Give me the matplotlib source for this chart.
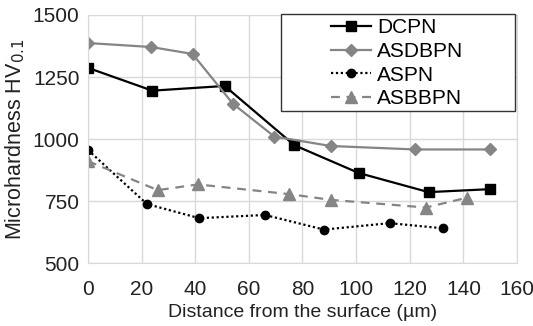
import matplotlib.pyplot as plt
from matplotlib.patches import Rectangle

plt.rcParams["font.family"] = ["Liberation Sans", "DejaVu Sans"]

# Hardness profiles
dcpn_x = [0, 24, 51, 77, 101, 127, 150]
dcpn_y = [1287, 1195, 1214, 975, 863, 786, 798]

asdbpn_x = [0, 23.5, 39, 54, 69.5, 90.5, 122, 150]
asdbpn_y = [1387, 1371, 1343, 1143, 1010, 972, 958, 958]

aspn_x = [0, 22, 41.5, 66, 88, 112.5, 132.5]
aspn_y = [956, 738, 681, 694, 635, 661, 640]

asbbpn_x = [0, 26, 41, 75, 90.5, 126, 141.5]
asbbpn_y = [911, 794, 817, 778, 755, 724, 764]

gray = "#858585"

fig = plt.figure(figsize=(5.33, 3.26), dpi=100)
ax = fig.add_axes([0.165, 0.193, 0.805, 0.761])

ax.plot(dcpn_x, dcpn_y, color="black", marker="s", markersize=6.5, lw=1.6, label="DCPN")
ax.plot(asdbpn_x, asdbpn_y, color=gray, marker="D", markersize=6, lw=1.6, label="ASDBPN")
ax.plot(aspn_x, aspn_y, color="black", marker="o", markersize=6, lw=1.6,
        linestyle=(0, (1, 1.2)), label="ASPN")
ax.plot(asbbpn_x, asbbpn_y, color=gray, marker="^", markersize=8, lw=1.6,
        linestyle=(0, (4, 3)), label="ASBBPN")

ax.set_xlim(0, 160)
ax.set_ylim(500, 1500)
ax.set_xticks(range(0, 161, 20))
ax.set_yticks([500, 750, 1000, 1250, 1500])
ax.grid(True, color="#d9d9d9", lw=1)
ax.set_axisbelow(True)
for s in ax.spines.values():
    s.set_color("#d9d9d9")
ax.tick_params(length=0, labelsize=15, colors="#222222")
ax.tick_params(axis="x", pad=12)
ax.tick_params(axis="y", pad=6)

ax.set_xlabel("Distance from the surface (µm)", fontsize=14, color="#222222", labelpad=4)
ax.set_ylabel("Microhardness HV$_{0.1}$", fontsize=15.5, color="#222222", labelpad=4)

# legend box is wider than its content in the original
ax.add_patch(Rectangle((0.527, 0.660), 0.439, 0.297, transform=fig.transFigure,
                       facecolor="white", edgecolor="#333333", lw=1, zorder=5,
                       clip_on=False))
leg = ax.legend(loc="center", bbox_to_anchor=(0.745, 0.806), bbox_transform=fig.transFigure,
                fontsize=15, frameon=False, handlelength=1.9, handletextpad=0.3,
                labelspacing=0.22, borderpad=0)
leg.set_zorder(6)

fig.savefig("out.png", dpi=100)
